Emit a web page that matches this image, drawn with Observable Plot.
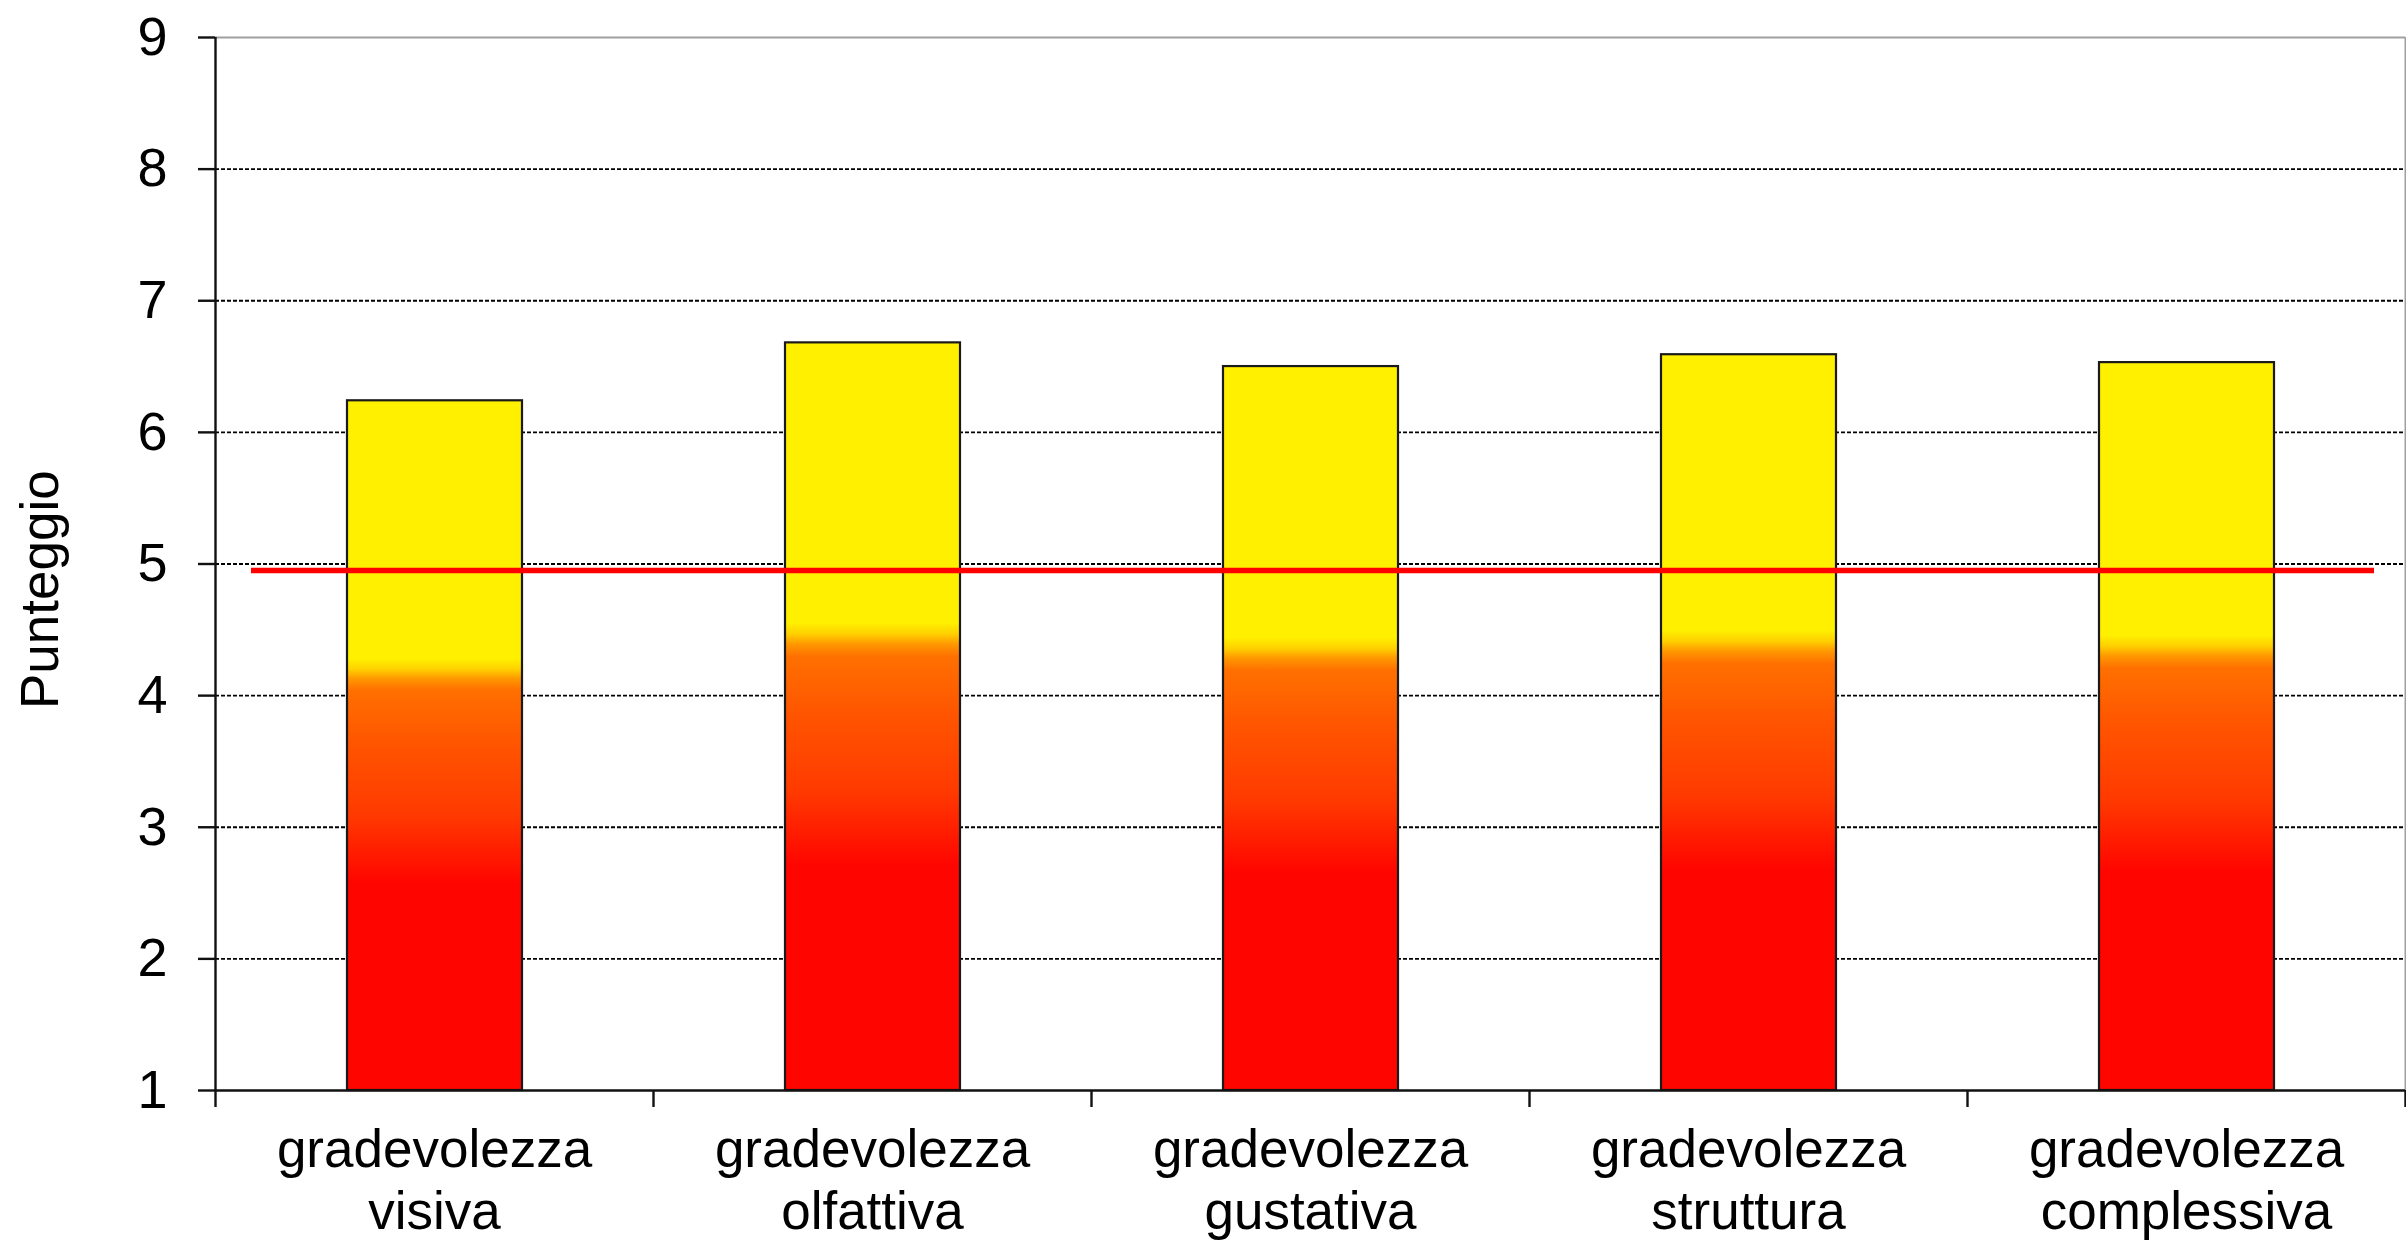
<!DOCTYPE html>
<html>
<head>
<meta charset="utf-8">
<script src="https://cdn.jsdelivr.net/npm/d3@7"></script>
<script src="https://cdn.jsdelivr.net/npm/@observablehq/plot@0.6"></script>
<style>
  html, body { margin: 0; padding: 0; background: #ffffff; }
  #chart svg { display: block; }
</style>
</head>
<body>
<div id="chart"></div>
<script>
// Categories (two-line labels) and mean scores
const categories = [
  "gradevolezza\nvisiva",
  "gradevolezza\nolfattiva",
  "gradevolezza\ngustativa",
  "gradevolezza\nstruttura",
  "gradevolezza\ncomplessiva"
];
const scores = [6.24, 6.68, 6.50, 6.59, 6.53];
// Reference threshold drawn as a red line
const threshold = 4.95;
const yTicks = [1, 2, 3, 4, 5, 6, 7, 8, 9];
const gridTicks = [2, 3, 4, 5, 6, 7, 8];

const bars = categories.map((c, i) => ({category: c, index: i, score: scores[i]}));

const FONT = "'Liberation Sans', Arial, sans-serif";
const SVGNS = "http://www.w3.org/2000/svg";

// Vertical red → orange → yellow fill, relative to each bar's own height
function gradientDefs() {
  const defs = document.createElementNS(SVGNS, "defs");
  const grad = document.createElementNS(SVGNS, "linearGradient");
  grad.setAttribute("id", "barFill");
  grad.setAttribute("x1", "0"); grad.setAttribute("y1", "1");
  grad.setAttribute("x2", "0"); grad.setAttribute("y2", "0");
  const stops = [
    [0.00, "#ff0500"],
    [0.30, "#ff0500"],
    [0.40, "#ff3a00"],
    [0.50, "#ff5400"],
    [0.58, "#ff7000"],
    [0.597, "#ff9a00"],
    [0.61, "#ffd000"],
    [0.625, "#fff000"],
    [1.00, "#fff000"]
  ];
  for (const [o, c] of stops) {
    const s = document.createElementNS(SVGNS, "stop");
    s.setAttribute("offset", o);
    s.setAttribute("stop-color", c);
    grad.appendChild(s);
  }
  defs.appendChild(grad);
  return defs;
}

const chart = Plot.plot({
  width: 2406,
  height: 1240,
  marginLeft: 215,
  marginRight: 1,
  marginTop: 37,
  marginBottom: 150,
  style: {fontFamily: FONT, fontSize: "54px", color: "#000", background: "#fff"},
  x: {domain: [0, categories.length], label: null, axis: null},
  y: {domain: [1, 9], label: null, axis: null},
  marks: [
    gradientDefs,
    // dashed horizontal gridlines
    Plot.ruleY(gridTicks, {stroke: "#000", strokeWidth: 1.8, strokeDasharray: "4,2"}),
    // plot-area border (top and right)
    Plot.ruleY([9], {stroke: "#a0a0a0", strokeWidth: 2}),
    Plot.ruleX([categories.length], {y1: 1, y2: 9, stroke: "#a0a0a0", strokeWidth: 2}),
    // bars
    Plot.rectY(bars, {
      x1: "index",
      x2: d => d.index + 1,
      y1: 1,
      y2: "score",
      insetLeft: 132,
      insetRight: 131,
      fill: "url(#barFill)",
      stroke: "#1a1a1a",
      strokeWidth: 2.2
    }),
    // threshold line
    Plot.ruleY([threshold], {stroke: "#ff0000", strokeWidth: 5.5, insetLeft: 36, insetRight: 31}),
    // axis lines
    Plot.ruleX([0], {y1: 1, y2: 9, stroke: "#111", strokeWidth: 2.4}),
    Plot.ruleY([1], {stroke: "#111", strokeWidth: 2.4}),
    // y axis ticks and labels
    Plot.axisY({
      ticks: yTicks,
      tickSize: 17,
      tickPadding: 31,
      tickFormat: d => String(d),
      stroke: "#111",
      strokeWidth: 2.4,
      fontSize: 54,
      label: null
    }),
    // category boundary ticks below the x axis
    Plot.axisX({
      ticks: d3.range(categories.length + 1),
      tickSize: 17,
      tickFormat: () => "",
      stroke: "#111",
      strokeWidth: 2.4,
      label: null
    }),
    // category labels
    Plot.text(bars, {
      x: d => d.index + 0.5,
      frameAnchor: "bottom",
      text: "category",
      lineAnchor: "top",
      lineHeight: 1.17,
      dy: 32,
      fontSize: 53,
      fill: "#000"
    }),
    // y axis title
    Plot.text(["Punteggio"], {
      frameAnchor: "left",
      text: d => d,
      rotate: -90,
      dx: -174,
      dy: 145,
      fontSize: 53,
      fill: "#000"
    })
  ]
});

document.getElementById("chart").appendChild(chart);
</script>
</body>
</html>
